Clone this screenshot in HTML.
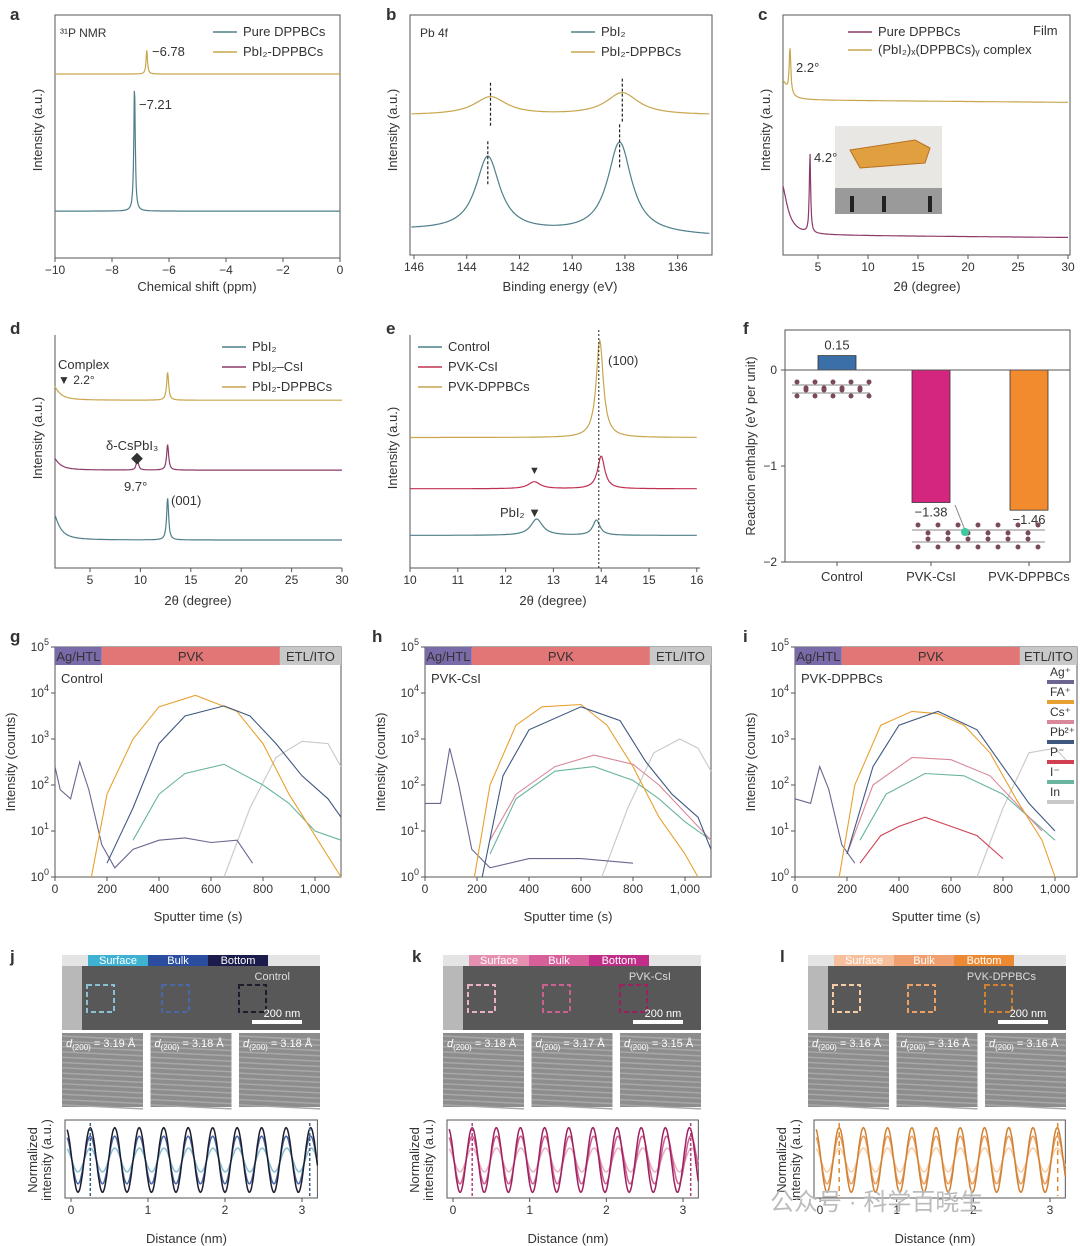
<!DOCTYPE html>
<html><head><meta charset="utf-8"><style>
body{margin:0;background:#fff}
svg{display:block;font-family:"Liberation Sans","Noto Sans CJK SC",sans-serif}
text{fill:#333}
</style></head><body>
<svg id="fig" width="1080" height="1246" viewBox="0 0 1080 1246" xmlns="http://www.w3.org/2000/svg">
<!-- panel letters -->
<g font-weight="bold" font-size="17">
<text x="10" y="20" fill="#111">a</text><text x="386" y="20" fill="#111">b</text><text x="758" y="20" fill="#111">c</text>
<text x="10" y="334" fill="#111">d</text><text x="386" y="334" fill="#111">e</text><text x="743" y="334" fill="#111">f</text>
<text x="10" y="642" fill="#111">g</text><text x="372" y="642" fill="#111">h</text><text x="743" y="642" fill="#111">i</text>
<text x="10" y="962" fill="#111">j</text><text x="412" y="962" fill="#111">k</text><text x="780" y="962" fill="#111">l</text>
</g>
<!-- c inset photo -->
<g>
<rect x="835" y="126" width="107" height="62" fill="#e9e7e3"/>
<rect x="835" y="188" width="107" height="26" fill="#9a9a9a"/>
<rect x="850" y="196" width="4" height="16" fill="#222"/><rect x="882" y="196" width="4" height="16" fill="#222"/><rect x="928" y="196" width="4" height="16" fill="#222"/>
<path d="M850 150 L915 140 L930 148 L925 163 L860 168 Z" fill="#e0a040" stroke="#b87020"/>
</g>
<text x="1033" y="35" font-size="13">Film</text>
<g id="root"></g>
<text x="770" y="1210" font-size="24" fill="#bbb" style="fill:#bbb">公众号 · 科学百晓生</text>
</svg>
<script>
// ---------- DATA ----------
// panel a (31P NMR): peak centres (ppm), heights (a.u.), widths
const aCenters=[-7.21,-6.78];
const aHeights=[51.9,9.9];
const aBaselines=[19.3,75.7];
// panel b (Pb 4f XPS)
const bPbI2Centers=[143.2,138.2];
const bPbI2Heights=[31,38];
const bDPPCenters=[143.1,138.1];
const bDPPHeights=[7.5,9.2];
const bBaselines=[[10.4,7.9],[58.3,58.3]];
// panel c (film XRD)
const cComplexCenters=[1.4,2.2];
const cComplexHeights=[8,19];
const cPureCenters=[1.3,4.2];
const cPureHeights=[22,33];
const cBaselines=[64.6,8.3];
// panel d
const dCenters=[[1.2,12.7],[1.2,9.7,12.7],[1.2,12.7]];
const dHeights=[[7,12],[6,5,11],[13,18]];
const dBaselines=[72,42,12];
// panel e
const eCenters=[[13.97],[12.6,14.0],[12.65,13.9]];
const eHeights=[[41.6],[3,14],[7,6.5]];
const eBaselines=[56,34,14];
// panel f
const fCategories=["Control","PVK-CsI","PVK-DPPBCs"];
const fValues=[0.15,-1.38,-1.46];
const fLabels=["0.15","\u22121.38","\u22121.46"];
// ToF-SIMS: [time, log10 counts]
const gAg=[[0,2.4],[20,1.9],[60,1.7],[95,2.5],[130,1.9],[180,0.7],[230,0.2],[300,0.6],[400,0.8],[500,0.85],[600,0.75],[700,0.8],[760,0.3]];
const gFA=[[140,0],[200,1.8],[300,3],[400,3.7],[540,3.95],[700,3.6],[800,2.9],[900,1.8],[1000,0.9],[1100,0]];
const gPb=[[200,0.3],[300,1.5],[400,2.9],[500,3.5],[650,3.72],[750,3.5],[850,2.9],[950,2.2],[1050,1.7],[1100,1.3]];
const gI=[[300,0.8],[400,1.8],[500,2.25],[650,2.45],[800,2.0],[900,1.6],[1000,1.0],[1100,0.8]];
const gIn=[[650,0],[750,1.5],[850,2.6],[950,2.95],[1050,2.9],[1100,2.4]];
const hAg=[[0,1.6],[60,1.6],[95,2.8],[130,2.0],[180,0.6],[250,0.2],[400,0.4],[600,0.4],[800,0.3]];
const hFA=[[190,0],[250,2],[350,3.3],[450,3.7],[600,3.75],[700,3.3],[800,2.4],[900,1.3],[1000,0.5],[1050,0]];
const hPb=[[220,0],[300,2.2],[400,3.2],[600,3.7],[750,3.4],[850,2.5],[950,1.8],[1050,1.3],[1100,0.6]];
const hCs=[[250,0.8],[350,1.8],[500,2.4],[650,2.65],[800,2.45],[900,2.0],[1000,1.4],[1100,0.8]];
const hI=[[250,0.5],[350,1.7],[500,2.3],[650,2.4],[800,2.1],[900,1.7],[1000,1.2],[1100,0.8]];
const hIn=[[680,0],[780,1.5],[880,2.7],[980,3.0],[1050,2.8],[1100,2.3]];
const iAg=[[0,1.7],[60,1.6],[95,2.4],[130,1.9],[180,0.7],[230,0.3]];
const iFA=[[170,0],[230,2],[330,3.3],[450,3.6],[550,3.55],[650,3.3],[750,2.7],[850,1.7],[950,0.8],[1000,0]];
const iPb=[[200,0.5],[300,2.4],[400,3.3],[550,3.6],[700,3.2],[800,2.4],[900,1.6],[1000,1.0]];
const iCs=[[200,0.5],[300,2.0],[450,2.6],[600,2.55],[750,2.2],[850,1.6],[950,1.0]];
const iI=[[250,0.8],[350,1.8],[500,2.25],[650,2.2],[800,1.8],[900,1.3],[1000,0.8]];
const iP=[[250,0.3],[330,0.9],[400,1.1],[500,1.3],[600,1.1],[700,0.9],[800,0.4]];
const iIn=[[700,0],[800,1.5],[900,2.7],[1000,2.8],[1050,2.5]];
const simsTicks=["0","200","400","600","800","1,000"];
// HRTEM line profiles: d-spacings (Å) and amplitudes
const jSpacings=[3.19,3.18,3.18];
const kSpacings=[3.18,3.17,3.15];
const lSpacings=[3.16,3.16,3.16];
const profileAmps=[0.35,0.7,0.95];

// ---------- HELPERS ----------
const NS="http://www.w3.org/2000/svg";
const root=document.getElementById('root');
function mk(tag,attrs,parent){const e=document.createElementNS(NS,tag);for(const k in attrs)e.setAttribute(k,attrs[k]);(parent||root).appendChild(e);return e;}
function txt(x,y,s,size,name,extra){const t=mk('text',Object.assign({x:x,y:y,'font-size':size||13},extra||{}));t.textContent=s;


return t;}
function pathFrom(pts,color,name,w,dash){const d=pts.map((p,i)=>(i?'L':'M')+p[0].toFixed(1)+' '+p[1].toFixed(1)).join(' ');
const p=mk('path',{d:d,fill:'none',stroke:color,'stroke-width':w||1.2});if(dash)p.setAttribute('stroke-dasharray',dash);


return p;}
function lor(x,c,h,w){return h/(1+((x-c)/w)*((x-c)/w));}
function box(x0,y0,x1,y1,name,full){const g=mk('g',{});


if(full)mk('rect',{x:x0,y:y0,width:x1-x0,height:y1-y0,fill:'none',stroke:'#555','stroke-width':1},g);
else{mk('path',{d:`M${x0} ${y0} V${y1} H${x1}`,fill:'none',stroke:'#555'},g);}return g;}
function xticks(vals,labels,fx,y,name){vals.forEach((v,i)=>{const x=fx(v);mk('line',{x1:x,x2:x,y1:y,y2:y+4,stroke:'#555'});txt(x,y+16,labels[i],12,name+'-'+i,{'text-anchor':'middle'});});}
function ylabel(x,y,s,name){txt(x,y,s,13,name,{transform:`rotate(-90 ${x} ${y})`,'text-anchor':'middle'});}
function spectrum(x0,x1,fx,fy,base0,base1,cs,hs,w,color,name){const pts=[];for(let i=0;i<=600;i++){const v=x0+(x1-x0)*i/600;let y=base0+(base1-base0)*i/600;cs.forEach((c,k)=>y+=lor(v,c,hs[k],Array.isArray(w)?w[k]:w));pts.push([fx(v),fy(y)]);}return pathFrom(pts,color,name);}
function legend(x,y,color,label,name){mk('line',{x1:x,x2:x+24,y1:y,y2:y,stroke:color,'stroke-width':1.5});txt(x+30,y+4,label,13,name);}
const TEAL='#4e7f88',GOLD='#c9a64e',PINK='#b9408a',PURP='#8b3a6a';

// ---------- PANEL A ----------
(function(){const fx=v=>55+(v+10)/10*285,fy=u=>258-u*2.43;box(55,15,340,258,'panel-a-axes',true);
xticks([-10,-8,-6,-4,-2,0],["\u221210","\u22128","\u22126","\u22124","\u22122","0"],fx,258,'a-xtick');
spectrum(-10,0,fx,fy,aBaselines[0],aBaselines[0],[aCenters[0]],[aHeights[0]],0.03,TEAL,'a-pure-dppbcs-line');
spectrum(-10,0,fx,fy,aBaselines[1],aBaselines[1],[aCenters[1]],[aHeights[1]],0.03,GOLD,'a-pbi2-dppbcs-line');
txt(139,109,'\u22127.21',13,'a-peak-label-721');txt(152,56,'\u22126.78',13,'a-peak-label-678');
txt(60,37,'\u00b3\u00b9P NMR',12,'a-nmr-label');
legend(213,32,TEAL,'Pure DPPBCs','a-legend-pure');legend(213,52,GOLD,'PbI\u2082-DPPBCs','a-legend-pbi2');
txt(197,291,'Chemical shift (ppm)',13,'a-x-title',{'text-anchor':'middle'});ylabel(42,130,'Intensity (a.u.)','a-y-title');})();

// ---------- PANEL B ----------
(function(){const fx=v=>414+(146-v)/11*290,fy=u=>255-u*2.4;box(410,15,712,255,'panel-b-axes',true);
xticks([146,144,142,140,138,136],["146","144","142","140","138","136"],fx,255,'b-xtick');
spectrum(146.1,134.8,fx,fy,bBaselines[0][0],bBaselines[0][1],bPbI2Centers,bPbI2Heights,0.55,TEAL,'b-pbi2-line');
spectrum(146.1,134.8,fx,fy,bBaselines[1][0],bBaselines[1][1],bDPPCenters,bDPPHeights,0.75,GOLD,'b-pbi2-dppbcs-line');
bPbI2Centers.forEach((c,i)=>pathFrom([[fx(c),fy(bBaselines[0][0]+bPbI2Heights[i]+6)],[fx(c),fy(bBaselines[0][0]+bPbI2Heights[i]-12)]],'#222','b-dash-pbi2-'+i,1.2,'3,2'));
bDPPCenters.forEach((c,i)=>pathFrom([[fx(c),fy(58.3+bDPPHeights[i]+6)],[fx(c),fy(58.3+bDPPHeights[i]-12)]],'#222','b-dash-dpp-'+i,1.2,'3,2'));
txt(420,37,'Pb 4f',12,'b-pb4f-label');legend(571,32,TEAL,'PbI\u2082','b-legend-pbi2');legend(571,52,GOLD,'PbI\u2082-DPPBCs','b-legend-dpp');
txt(560,291,'Binding energy (eV)',13,'b-x-title',{'text-anchor':'middle'});ylabel(397,130,'Intensity (a.u.)','b-y-title');})();

// ---------- PANEL C ----------
(function(){const fx=v=>768+v*10,fy=u=>255-u*2.4;box(783,15,1070,255,'panel-c-axes',true);
xticks([5,10,15,20,25,30],["5","10","15","20","25","30"],fx,255,'c-xtick');
spectrum(1.5,30,fx,fy,cBaselines[0],cBaselines[0]-1,cComplexCenters,cComplexHeights,[0.6,0.1],GOLD,'c-complex-line');
spectrum(1.5,30,fx,fy,cBaselines[1],cBaselines[1]-1,cPureCenters,cPureHeights,[0.7,0.08],PURP,'c-pure-line');
txt(796,72,'2.2\u00b0',13,'c-peak-22');txt(814,162,'4.2\u00b0',13,'c-peak-42');
legend(848,32,PURP,'Pure DPPBCs','c-legend-pure');legend(848,50,GOLD,'(PbI\u2082)\u2093(DPPBCs)\u1d67 complex','c-legend-complex');
txt(927,291,'2\u03b8 (degree)',13,'c-x-title',{'text-anchor':'middle'});ylabel(770,130,'Intensity (a.u.)','c-y-title');})();

// ---------- PANEL D ----------
(function(){const fx=v=>39.6+v*10.08,fy=u=>568-u*2.33;box(55,335,342,568,'panel-d-axes',false);
xticks([5,10,15,20,25,30],["5","10","15","20","25","30"],fx,568,'d-xtick');
const cols=[GOLD,PURP,TEAL],nm=['d-pbi2-dppbcs-line','d-pbi2-csi-line','d-pbi2-line'];
dCenters.forEach((cs,i)=>spectrum(1.5,30,fx,fy,dBaselines[i],dBaselines[i],cs,dHeights[i],cs.map(c=>c<2?0.7:0.12),cols[i],nm[i]));
txt(58,369,'Complex',13,'d-complex-label');txt(58,384,'\u25bc 2.2\u00b0',12,'d-complex-marker');
txt(106,450,'\u03b4-CsPbI\u2083',13,'d-cspbi3-label');txt(131,463,'\u25c6',12,'d-diamond');txt(124,491,'9.7\u00b0',13,'d-97-label');
txt(171,505,'(001)',13,'d-001-label');
legend(222,347,TEAL,'PbI\u2082','d-legend-pbi2');legend(222,367,PURP,'PbI\u2082\u2013CsI','d-legend-csi');legend(222,387,GOLD,'PbI\u2082-DPPBCs','d-legend-dpp');
txt(198,605,'2\u03b8 (degree)',13,'d-x-title',{'text-anchor':'middle'});ylabel(42,438,'Intensity (a.u.)','d-y-title');})();

// ---------- PANEL E ----------
(function(){const fx=v=>410+(v-10)*47.8,fy=u=>568-u*2.33;box(410,335,700,568,'panel-e-axes',false);
xticks([10,11,12,13,14,15,16],["10","11","12","13","14","15","16"],fx,568,'e-xtick');
const cols=[GOLD,'#c03050',TEAL],nm=['e-pvk-dppbcs-line','e-pvk-csi-line','e-control-line'];
eCenters.forEach((cs,i)=>spectrum(10,16,fx,fy,eBaselines[i],eBaselines[i],cs,eHeights[i],cs.map(c=>c<13?0.15:0.09),cols[i],nm[i]));
pathFrom([[fx(13.95),330],[fx(13.95),568]],'#222','e-dotted-line',1,'2,2');
txt(529,474,'\u25bc',11,'e-marker-csi');txt(500,517,'PbI\u2082 \u25bc',13,'e-pbi2-label');txt(608,365,'(100)',13,'e-100-label');
legend(418,347,TEAL,'Control','e-legend-control');legend(418,367,'#c03050','PVK-CsI','e-legend-csi');legend(418,387,GOLD,'PVK-DPPBCs','e-legend-dpp');
txt(553,605,'2\u03b8 (degree)',13,'e-x-title',{'text-anchor':'middle'});ylabel(397,448,'Intensity (a.u.)','e-y-title');})();

// ---------- PANEL F ----------
(function(){const fy=v=>370-v*96;box(785,330,1070,562,'panel-f-axes',true);
[0,-1,-2].forEach((v,i)=>{mk('line',{x1:781,x2:785,y1:fy(v),y2:fy(v),stroke:'#555'});txt(777,fy(v)+4,['0','\u22121','\u22122'][i],12,'f-ytick-'+i,{'text-anchor':'end'});});
const cols=['#3a6fa8','#d4257f','#f28a2e'],cx=[837,931,1029];
fValues.forEach((v,i)=>{const r=mk('rect',{x:cx[i]-19,y:Math.min(fy(v),fy(0)),width:38,height:Math.abs(fy(v)-fy(0)),fill:cols[i],stroke:'#333','stroke-width':0.8});


txt(cx[i],v>0?fy(v)-6:fy(v)+14,fLabels[i],13,'f-value-'+i,{'text-anchor':'middle'});
mk('line',{x1:cx[i],x2:cx[i],y1:562,y2:566,stroke:'#555'});
txt(cx[i]+(i==0?5:0),581,fCategories[i],13,'f-category-'+i,{'text-anchor':'middle'});});
pathFrom([[785,370],[1070,370]],'#555','f-zero-line',1);
ylabel(755,446,'Reaction enthalpy (eV per unit)','f-y-title');
const mol=mk('g',{});
for(let k=0;k<9;k++){mk('circle',{cx:797+k*9,cy:382+(k%2)*6,r:2.5,fill:'#7a4a5a'},mol);mk('circle',{cx:797+k*9,cy:396-(k%2)*6,r:2.5,fill:'#7a4a5a'},mol);}
mk('path',{d:'M792 385 H870 M792 393 H870',stroke:'#888','stroke-width':1},mol);
const mol2=mk('g',{});
for(let k=0;k<13;k++){mk('circle',{cx:918+k*10,cy:525+(k%2)*8,r:2.5,fill:'#7a4a5a'},mol2);mk('circle',{cx:918+k*10,cy:547-(k%2)*8,r:2.5,fill:'#7a4a5a'},mol2);}
mk('path',{d:'M912 530 H1045 M912 542 H1045 M955 505 L965 530',stroke:'#888','stroke-width':1},mol2);
mk('circle',{cx:965,cy:532,r:4,fill:'#3cc8a0'},mol2);})();

// ---------- SIMS PANELS ----------
function sims(x0,x1,series,label,pfx,legendOn){const top=647,bot=877,fx=t=>x0+t*0.26,fy=l=>bot-l*46;
box(x0,top,x1,bot,pfx+'-axes',true);
const bands=[[0,180,'#7a6aaa','Ag/HTL'],[180,865,'#e27575','PVK'],[865,1100,'#c8c8c8','ETL/ITO']];
bands.forEach((b,i)=>{const r=mk('rect',{x:fx(b[0]),y:top,width:Math.min(fx(b[1]),x1)-fx(b[0]),height:18,fill:b[2]});


txt((fx(b[0])+Math.min(fx(b[1]),x1))/2,top+14,b[3],13,pfx+'-band-label-'+i,{'text-anchor':'middle'});});
[0,1,2,3,4,5].forEach(k=>{mk('line',{x1:x0-4,x2:x0,y1:fy(k),y2:fy(k),stroke:'#555'});const t=txt(x0-6,fy(k)+4,'10',12,pfx+'-ytick-'+k,{'text-anchor':'end'});const s=mk('tspan',{dy:-6,'font-size':9},t);s.textContent=String(k);});
xticks([0,200,400,600,800,1000],simsTicks,fx,bot,pfx+'-xtick');
series.forEach(s=>{pathFrom(s[0].map(p=>[fx(p[0]),fy(p[1])]),s[1],pfx+'-'+s[2]+'-line',1.1);});
txt(x0+6,top+36,label,13,pfx+'-sample-label');
txt((x0+x1)/2,921,'Sputter time (s)',13,pfx+'-x-title',{'text-anchor':'middle'});ylabel(x0-40,762,'Intensity (counts)',pfx+'-y-title');}
const cAg='#6b6690',cFA='#e8a030',cCs='#d88898',cPb='#3e5880',cP='#d04050',cI='#6ab4a0',cIn='#c8c8c8';
sims(55,341,[[gIn,cIn,'in'],[gI,cI,'i'],[gAg,cAg,'ag'],[gFA,cFA,'fa'],[gPb,cPb,'pb']],'Control','g',false);
sims(425,711,[[hIn,cIn,'in'],[hI,cI,'i'],[hCs,cCs,'cs'],[hAg,cAg,'ag'],[hFA,cFA,'fa'],[hPb,cPb,'pb']],'PVK-CsI','h',false);
sims(795,1077,[[iIn,cIn,'in'],[iI,cI,'i'],[iP,cP,'p'],[iCs,cCs,'cs'],[iAg,cAg,'ag'],[iFA,cFA,'fa'],[iPb,cPb,'pb']],'PVK-DPPBCs','i',true);
[['Ag\u207a',cAg],['FA\u207a',cFA],['Cs\u207a',cCs],['Pb\u00b2\u207a',cPb],['P\u207b',cP],['I\u207b',cI],['In',cIn]].forEach((e,k)=>{
txt(1050,676+k*20,e[0],12,'i-legend-label-'+k);const r=mk('rect',{x:1047,y:680+k*20,width:27,height:4,fill:e[1]});

});

// ---------- HRTEM PANELS ----------
function tem(ix,px0,px3,spacings,cols,bandCols,label,pfx,dashCol,dash){
const g=mk('g',{});
mk('rect',{x:ix,y:955,width:258,height:75,fill:'#e4e4e4'},g);
mk('rect',{x:ix+18,y:966,width:240,height:64,fill:'#585858'},g);
mk('rect',{x:ix,y:966,width:20,height:64,fill:'#b8b8b8'},g);
['Surface','Bulk','Bottom'].forEach((s,k)=>{mk('rect',{x:ix+26+k*60,y:955,width:60,height:11,fill:bandCols[k]},g);txt(ix+56+k*60,964,s,11,pfx+'-band-'+s.toLowerCase(),{'text-anchor':'middle',fill:'#fff',style:'fill:#fff'});});
[ix+25,ix+100,ix+177].forEach((x,k)=>mk('rect',{x:x,y:985,width:27,height:27,fill:'none',stroke:cols[k],'stroke-width':2,'stroke-dasharray':'5,3'},g));
txt(ix+228,980,label,11,pfx+'-sample-label',{'text-anchor':'end',style:'fill:#ddd'});
mk('rect',{x:ix+190,y:1020,width:50,height:4,fill:'#fff'},g);txt(ix+220,1017,'200 nm',11,pfx+'-scale-label',{'text-anchor':'middle',style:'fill:#fff'});
spacings.forEach((d,k)=>{const tx=ix+k*88.5;mk('rect',{x:tx,y:1033,width:81,height:74,fill:'#8d8d8d'},g);
for(let r=0;r<14;r++)mk('line',{x1:tx,x2:tx+81,y1:1036+r*5.3,y2:1040+r*5.3,stroke:'#a8a8a8','stroke-width':1.5},g);
const t=txt(tx+4,1047,'d',11,pfx+'-dspacing-'+k,{style:'fill:#fff','font-style':'italic'});const s1=mk('tspan',{dy:3,'font-size':8,'font-style':'normal'},t);s1.textContent='(200)';const s2=mk('tspan',{dy:-3,'font-style':'normal'},t);s2.textContent=' = '+d.toFixed(2)+' \u00c5';});
// line-profile plot
const fx=v=>px0+v*(px3-px0)/3,cy=1160;box(px0-6,1120,px0+(px3-px0)/3*3.2,1198,pfx+'-profile-axes',true);
xticks([0,1,2,3],["0","1","2","3"],fx,1198,pfx+'-xtick');
spacings.forEach((d,k)=>{const per=d/10,pts=[];for(let i=0;i<=400;i++){const v=-0.05+3.25*i/400;pts.push([fx(v),cy-profileAmps[k]*34*Math.cos(2*Math.PI*(v-0.25)/per)]);}
pathFrom(pts,cols[k],pfx+'-profile-'+['surface','bulk','bottom'][k],1.5);});
[0.25,3.1].forEach((v,k)=>pathFrom([[fx(v),1123],[fx(v),1196]],dashCol,pfx+'-marker-'+k,1.5,dash));
txt((px0+px3)/2,1243,'Distance (nm)',13,pfx+'-x-title',{'text-anchor':'middle'});
ylabel(px0-34,1160,'Normalized',pfx+'-y-title-1');ylabel(px0-20,1160,'intensity (a.u.)',pfx+'-y-title-2');}
tem(62,71,302,jSpacings,['#8bbfd2','#4a68a6','#1b1d2c'],['#3fb2d2','#2b4da0','#1b1b4c'],'Control','j','#3a5f80','3,2');
tem(443,453,683,kSpacings,['#e8b0c4','#cc6090','#9e2060'],['#e590b0','#d8609a','#c02e88'],'PVK-CsI','k','#b04080','3,2');
tem(808,820,1050,lSpacings,['#f6cda6','#eaa066','#d08030'],['#f6c09c','#f0a070','#ec8a34'],'PVK-DPPBCs','l','#e08a30','5,4');
</script>
</body></html>
